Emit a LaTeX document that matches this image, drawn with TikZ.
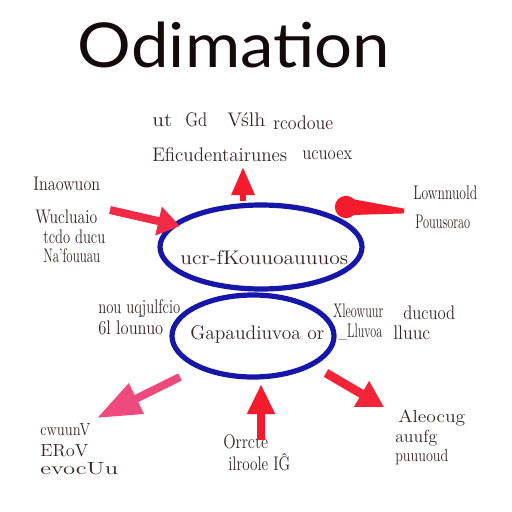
\documentclass[tikz,border=0pt]{standalone}
\usepackage{fontspec}
\usepackage{graphicx}
\newfontfamily\titlefont{Lato}
\usetikzlibrary{arrows.meta,shapes.geometric}
\definecolor{ink}{HTML}{3A2420}
\definecolor{titleink}{HTML}{140A0A}
\definecolor{ellblue}{HTML}{1616A8}
\definecolor{arrred}{HTML}{F41C2C}
\definecolor{arrpink}{HTML}{EE4A7E}
\newlength\unitpx
\setlength\unitpx{0.25mm}
\newcommand\fitw[2]{\resizebox{#1\unitpx}{\height}{#2}}
\begin{document}
\begin{tikzpicture}[x=0.25mm,y=-0.25mm,
  txt/.style={anchor=west,inner sep=0pt,text=ink,font=\fontsize{14}{14}\selectfont},
  smalltxt/.style={txt,font=\fontsize{12.5}{12.5}\selectfont},
  bubble/.style={ellipse,draw=ellblue,line width=1.3mm,inner sep=0pt},
  redarr/.style={draw=arrred,line width=2mm,-{Triangle[length=7mm,width=6mm]}},
  pinkarr/.style={draw=arrpink,line width=2mm,-{Triangle[length=6mm,width=7mm]}}]
\useasboundingbox (0,0) rectangle (512,512);
\fill[white] (0,0) rectangle (512,512);
% title
\node[inner sep=0pt,text=titleink] (title) at (234,45) {\fitw{312}{\titlefont\fontsize{44}{44}\selectfont Odimation}};
% ellipses
\node[bubble,minimum width=50.5mm,minimum height=21mm] (upper) at (261,247) {};
\node[bubble,minimum width=40.5mm,minimum height=20.5mm] (lower) at (253,336) {};
\node[txt] (uppertext) at (180,258) {\fitw{168}{ucr-fKouuoauuuos}};
\node[txt] (lowertext) at (190,334) {\fitw{134}{Gapaudiuvoa or}};
% top texts
\node[txt] (t1) at (152,121) {\fitw{20}{ut}};
\node[txt] (t2) at (185,120) {\fitw{22}{Gd}};
\node[txt] (t3) at (227,120) {\fitw{38}{Vślh}};
\node[txt] (t4) at (273,123) {\fitw{60}{rcodoue}};
\node[txt] (t5) at (152,155) {\fitw{135}{Eficudentairunes}};
\node[txt] (t6) at (302,155) {\fitw{50}{ucuoex}};
% left texts
\node[txt] (l1) at (33,184) {\fitw{67}{Inaowuon}};
\node[txt] (l2) at (35,217) {\fitw{62}{Wucluaio}};
\node[txt] (l3) at (43,237) {\fitw{62}{tcdo ducu}};
\node[txt] (l4) at (43,256) {\fitw{57}{Na'fouuau}};
% right texts
\node[txt] (r1) at (413,193) {\fitw{64}{Lownnuold}};
\node[txt] (r2) at (415,222) {\fitw{55}{Pouusorao}};
% middle left
\node[txt] (ml1) at (98,309) {\fitw{82}{nou uqjulfcio}};
\node[txt] (ml2) at (98,328) {\fitw{65}{6l lounuo}};
% middle right
\node[txt] (mr1) at (333,311) {\fitw{50}{Xleowuur}};
\node[txt] (mr2) at (403,313) {\fitw{52}{ducuod}};
\node[txt] (mr3) at (338,332) {\fitw{44}{\_Lluvoa}};
\node[txt] (mr4) at (393,333) {\fitw{37}{lluuc}};
% lower left
\node[smalltxt] (ll1) at (40,430) {\fitw{50}{cwuunV}};
\node[smalltxt] (ll2) at (40,451) {\fitw{48}{ERoV}};
\node[smalltxt] (ll3) at (40,469) {\fitw{78}{evocUu}};
% bottom center
\node[txt] (b1) at (223,442) {\fitw{45}{Orrcte}};
\node[txt] (b2) at (228,462) {\fitw{62}{ilroole IĜ}};
% lower right
\node[smalltxt] (lr1) at (398,418) {\fitw{67}{Aleocug}};
\node[smalltxt] (lr2) at (395,438) {\fitw{42}{auufg}};
\node[smalltxt] (lr3) at (395,457) {\fitw{53}{puuuoud}};
% arrow end points
\coordinate (topA) at (243,201);
\coordinate (topB) at (243,167);
\coordinate (leftA) at (110,210);
\coordinate (leftB) at (180,226);
\coordinate (rightA) at (404,211);
\coordinate (rightB) at (352,207);
\coordinate (rightC) at (346,207);
\coordinate (llA) at (180,377);
\coordinate (llB) at (97,418);
\coordinate (botA) at (261,440);
\coordinate (botB) at (261,384);
\coordinate (lrA) at (326,373);
\coordinate (lrB) at (384,407);
% arrows
\draw[redarr,line width=1.5mm,-{Triangle[length=7mm,width=5.5mm]}] (topA) -- (topB);
\draw[draw=arrred!70!arrpink,line width=2mm,-{Triangle[length=5.5mm,width=7mm]}] (leftA) -- (leftB);
\fill[arrred] ([yshift=2mm]rightB) -- ([yshift=0.6mm]rightA) arc[start angle=-90,end angle=90,radius=0.15mm] -- ([yshift=-0.6mm]rightA) -- ([yshift=-2mm]rightB) -- cycle;
\fill[arrred] (rightC) circle (2.8mm);
\draw[pinkarr,line width=2mm,-{Triangle[length=11mm,width=8mm]}] (llA) -- (llB);
\draw[redarr,line width=2mm,-{Triangle[length=7.5mm,width=6.5mm]}] (botA) -- (botB);
\draw[draw=arrred!85!arrpink,line width=2.2mm,-{Triangle[length=6.5mm,width=7mm]}] (lrA) -- (lrB);
\end{tikzpicture}
\end{document}
